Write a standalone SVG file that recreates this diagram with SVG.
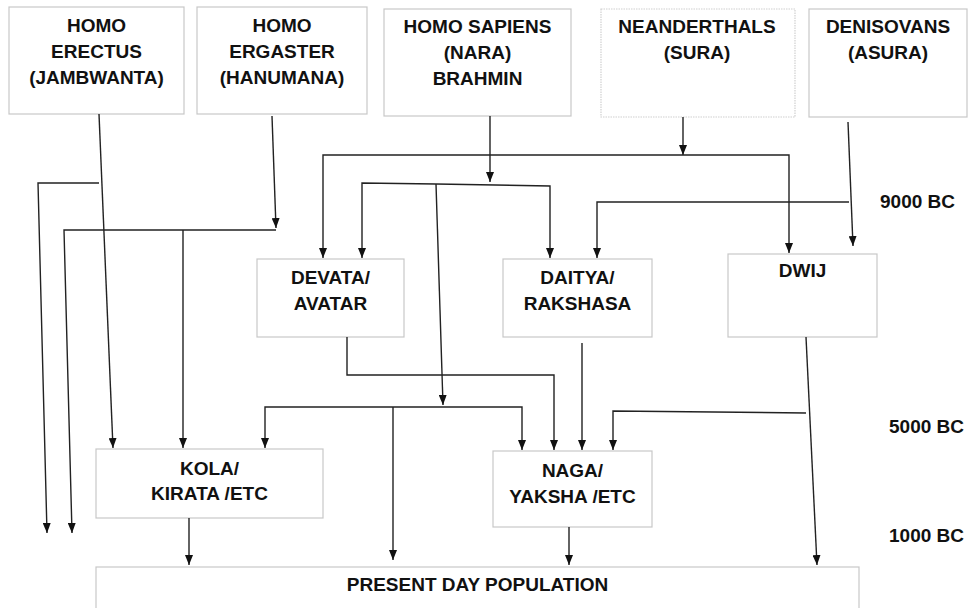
<svg xmlns="http://www.w3.org/2000/svg" width="969" height="608" viewBox="0 0 969 608">
<style>
.box{fill:#fff;stroke:#c8c8c8;stroke-width:1.2}
.dot{fill:#fff;stroke:#d0d0d0;stroke-width:1.2;stroke-dasharray:1.5 1}
.t{font-family:"Liberation Sans",Arial,sans-serif;font-weight:bold;font-size:19px;fill:#111;text-anchor:middle}
.l{font-family:"Liberation Sans",Arial,sans-serif;font-weight:bold;font-size:19px;fill:#111}
.c{fill:none;stroke:#222;stroke-width:1.4}
.a{marker-end:url(#ah)}
</style>
<defs>
<marker id="ah" markerUnits="userSpaceOnUse" markerWidth="10" markerHeight="8" refX="10" refY="4" orient="auto" viewBox="0 0 10 8">
<path d="M0,0 L10,4 L0,8 Z" fill="#111"/>
</marker>
</defs>
<rect width="969" height="608" fill="#fff"/>
<g id="erectus"><rect class="box" x="9" y="7" width="175" height="107"/>
<text class="t" x="96.5" y="32">HOMO</text><text class="t" x="96.5" y="58">ERECTUS</text><text class="t" x="96.5" y="84">(JAMBWANTA)</text></g>
<g id="ergaster"><rect class="box" x="197" y="7" width="170" height="107"/>
<text class="t" x="282" y="32">HOMO</text><text class="t" x="282" y="58">ERGASTER</text><text class="t" x="282" y="84">(HANUMANA)</text></g>
<g id="sapiens"><rect class="box" x="384" y="9" width="187" height="107"/>
<text class="t" x="477.5" y="33">HOMO SAPIENS</text><text class="t" x="477.5" y="59">(NARA)</text><text class="t" x="477.5" y="85">BRAHMIN</text></g>
<g id="neanderthals"><rect class="dot" x="601" y="9" width="194" height="108"/>
<text class="t" x="697" y="33">NEANDERTHALS</text><text class="t" x="697" y="59">(SURA)</text></g>
<g id="denisovans"><rect class="box" x="809" y="9" width="158" height="108"/>
<text class="t" x="888" y="33">DENISOVANS</text><text class="t" x="888" y="59">(ASURA)</text></g>
<g id="devata"><rect class="box" x="257" y="259" width="147" height="78"/>
<text class="t" x="330.5" y="284">DEVATA/</text><text class="t" x="330.5" y="310">AVATAR</text></g>
<g id="daitya"><rect class="box" x="503" y="259" width="149" height="78"/>
<text class="t" x="577.5" y="284">DAITYA/</text><text class="t" x="577.5" y="310">RAKSHASA</text></g>
<g id="dwij"><rect class="box" x="728" y="254" width="149" height="83"/>
<text class="t" x="802.5" y="277">DWIJ</text></g>
<g id="kola"><rect class="box" x="96" y="449" width="227" height="69"/>
<text class="t" x="209.5" y="475">KOLA/</text><text class="t" x="209.5" y="500">KIRATA /ETC</text></g>
<g id="naga"><rect class="box" x="493" y="451" width="159" height="76"/>
<text class="t" x="572.5" y="477">NAGA/</text><text class="t" x="572.5" y="503">YAKSHA /ETC</text></g>
<g id="present"><rect class="box" x="96" y="567" width="763" height="60"/>
<text class="t" x="477.5" y="591">PRESENT DAY POPULATION</text></g>
<g id="timeline">
<text class="l" x="880" y="208">9000 BC</text>
<text class="l" x="889" y="433">5000 BC</text>
<text class="l" x="889" y="542">1000 BC</text>
</g>
<g id="connectors">
<path class="c a" d="M99,114 L113,448"/>
<path class="c a" d="M99,183 L38,183 L47,533"/>
<path class="c a" d="M272,116 L276,228"/>
<path class="c a" d="M276,230 L64,230 L72,533"/>
<path class="c a" d="M183,230 L183,448"/>
<path class="c a" d="M490,116 L490,182"/>
<path class="c a" d="M436,184 L362,183 L362,258"/>
<path class="c a" d="M436,184 L550,186 L550,258"/>
<path class="c a" d="M436,184 L443,405"/>
<path class="c a" d="M683,117 L683,155"/>
<path class="c a" d="M683,155 L323,155 L323,258"/>
<path class="c a" d="M683,155 L789,155 L789,253"/>
<path class="c a" d="M848,122 L853,246"/>
<path class="c a" d="M849,202 L597,202 L597,258"/>
<path class="c a" d="M347,337 L347,375 L554,375 L554,450"/>
<path class="c a" d="M443,407 L265,407 L265,448"/>
<path class="c a" d="M443,407 L522,407 L522,450"/>
<path class="c a" d="M393,407 L393,560"/>
<path class="c a" d="M582,343 L582,450"/>
<path class="c a" d="M806,337 L817,565"/>
<path class="c a" d="M806,413 L613,411 L613,450"/>
<path class="c a" d="M189,518 L189,565"/>
<path class="c a" d="M569,527 L569,565"/>
</g>
</svg>
